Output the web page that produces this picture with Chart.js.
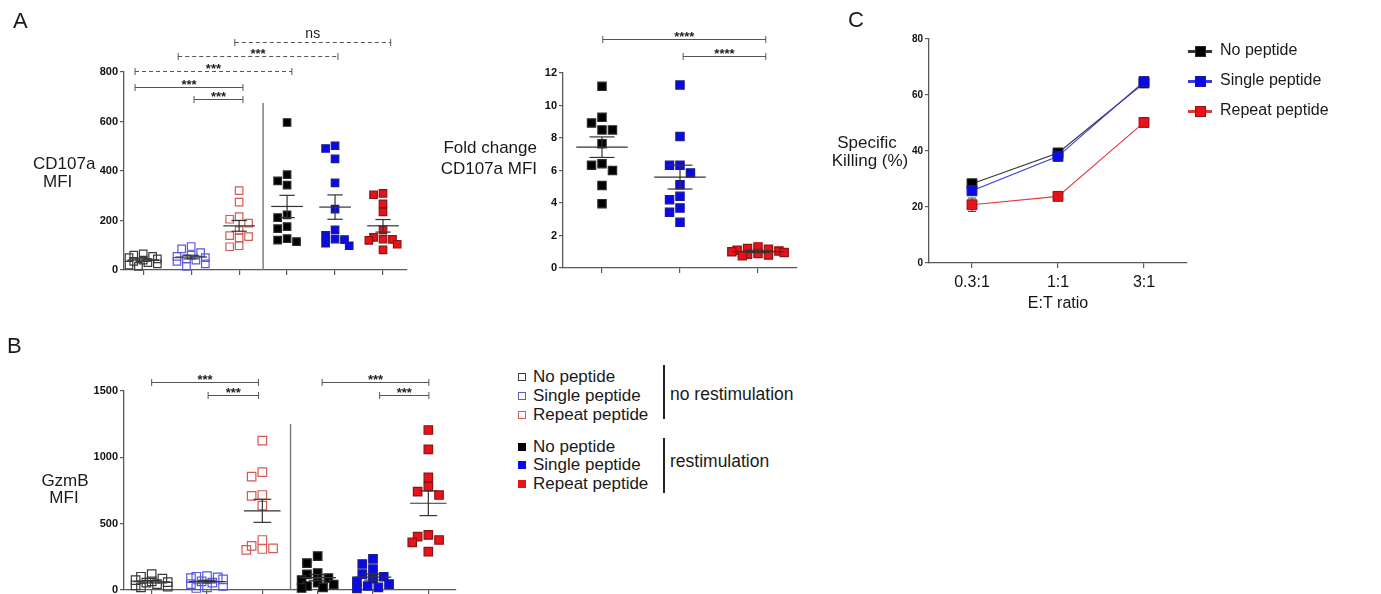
<!DOCTYPE html>
<html>
<head>
<meta charset="utf-8">
<script src="https://cdn.jsdelivr.net/npm/chart.js"></script>
<style>
  body { margin: 0; width: 1381px; height: 594px; overflow: hidden; background: #fff; position: relative;
         font-family: 'Liberation Sans', Arial, sans-serif; color: #1a1a1a; }
  canvas { position: absolute; }
  .t { position: absolute; white-space: nowrap; line-height: 1; }
  .sw { position: absolute; box-sizing: border-box; }
</style>
</head>
<body>
<script>
/********* DATA ************/
const groupNames = ["No peptide", "Single peptide", "Repeat peptide"];

// A - CD107a MFI
const cd107aTicks = [0, 200, 400, 600, 800];
const cd107aNoPep = [65, 60, 55, 50, 45, 40, 35, 30, 25, 20, 15];
const cd107aSingle = [95, 85, 70, 60, 55, 50, 45, 40, 35, 25, 15];
const cd107aRepeat = [321, 274, 216, 205, 189, 160, 139, 135, 130, 98, 94];
const cd107aNoPepRe = [596, 385, 360, 343, 223, 212, 175, 167, 127, 121, 115];
const cd107aSingleRe = [502, 491, 449, 352, 246, 162, 140, 125, 123, 108, 98];
const cd107aRepeatRe = [310, 304, 267, 235, 162, 132, 125, 124, 120, 104, 81];

// A - fold change CD107a MFI
const foldTicks = [0, 2, 4, 6, 8, 10, 12];
const foldNoPep = [11.18, 9.27, 8.92, 8.5, 8.5, 7.65, 6.42, 6.32, 6.0, 5.07, 3.96];
const foldSingle = [11.26, 8.1, 6.32, 6.32, 5.85, 5.13, 4.41, 4.2, 3.69, 3.43, 2.81];
const foldRepeat = [1.3, 1.2, 1.15, 1.1, 1.05, 1.0, 0.95, 0.9, 0.85, 0.8, 0.75];

// B - GzmB MFI
const gzmbTicks = [0, 500, 1000, 1500];
const gzmbNoPep = [120, 100, 85, 75, 65, 60, 55, 45, 35, 25, 20];
const gzmbSingle = [105, 100, 95, 90, 80, 65, 55, 45, 30, 20, 15];
const gzmbRepeat = [1126, 889, 854, 716, 709, 636, 377, 332, 314, 309, 302];
const gzmbNoPepRe = [256, 203, 128, 118, 90, 75, 55, 40, 30, 20, 15];
const gzmbSingleRe = [234, 196, 158, 120, 100, 85, 65, 45, 30, 20, 12];
const gzmbRepeatRe = [1206, 1060, 849, 779, 741, 716, 415, 402, 377, 359, 289];

// C - specific killing
const etRatios = ["0.3:1", "1:1", "3:1"];
const killTicks = [0, 20, 40, 60, 80];
const killNoPep = [28.3, 39.3, 64.3];
const killSingle = [25.8, 38.1, 64.8];
const killRepeat = [20.8, 23.8, 50.2];
const killNoPepSem = [1.0, 1.0, 1.5];
const killSingleSem = [1.0, 1.6, 1.5];
const killRepeatSem = [2.4, 0.8, 0.6];

/********* STYLE ************/
const FONT = "'Liberation Sans', Arial, sans-serif";
const AXIS = "#5a5a5a";
Chart.defaults.font.family = FONT;

const openBlack = { fill: "rgba(255,255,255,0)", line: "#3a3a3a" };
const openBlue = { fill: "rgba(255,255,255,0)", line: "#5a5ad8" };
const openRed = { fill: "rgba(255,255,255,0)", line: "#d45a55" };
const fillBlack = { fill: "#000000", line: "#2a2a2a" };
const fillBlue = { fill: "#0a0ae8", line: "#1c1c8a" };
const fillRed = { fill: "#e8121a", line: "#8a1515" };

/********* HELPERS ************/
const mean = (a) => a.reduce((s, v) => s + v, 0) / a.length;
const sem = (a) => {
  const m = mean(a);
  return Math.sqrt(a.reduce((s, v) => s + (v - m) * (v - m), 0) / (a.length - 1)) / Math.sqrt(a.length);
};

// simple beeswarm: spread overlapping points sideways (no randomness),
// limited to maxHalf px each side; when crowded, pick the least overlapping slot
function swarm(values, center, pxX, pxY, d, maxHalf) {
  const order = values.map((v, i) => i).sort((a, b) => values[b] - values[a]);
  const placed = [];
  const pts = [];
  const step = d * 0.6;
  for (const i of order) {
    const y = values[i] * pxY;
    let best = 0, bestCost = Infinity;
    for (let k = 0; ; k++) {
      const o = (k % 2 ? -1 : 1) * Math.ceil(k / 2) * step;
      if (Math.abs(o) > maxHalf) break;
      let cost = 0;
      placed.forEach((p) => {
        cost += Math.max(0, d - Math.abs(p.x - o)) * Math.max(0, d - Math.abs(p.y - y));
      });
      if (cost < bestCost - 1e-6) { bestCost = cost; best = o; }
      if (cost === 0) break;
    }
    placed.push({ x: best, y: y });
    pts.push({ x: center + best / pxX, y: values[i] });
  }
  return pts;
}

function seg(x1, y1, x2, y2, color, width) {
  return { data: [{ x: x1, y: y1 }, { x: x2, y: y2 }], showLine: true, borderColor: color,
           borderWidth: width || 1.2, pointRadius: 0, order: 1, clip: false };
}

function makeCanvas(c) {
  const cv = document.createElement("canvas");
  cv.width = c.w; cv.height = c.h;
  cv.style.left = c.l + "px"; cv.style.top = c.t + "px";
  document.body.appendChild(cv);
  return cv;
}

// significance brackets drawn above the groups
const bracketPlugin = (list) => ({
  id: "brackets",
  afterDatasetsDraw(chart) {
    const { ctx, scales: { x, y } } = chart;
    ctx.save();
    ctx.strokeStyle = "#555"; ctx.lineWidth = 1; ctx.fillStyle = "#222"; ctx.textAlign = "center";
    list.forEach((b) => {
      const x1 = x.getPixelForValue(b.from), x2 = x.getPixelForValue(b.to);
      const yy = Math.round(y.getPixelForValue(b.y)) + 0.5;
      ctx.setLineDash(b.dashed ? [4, 3] : []);
      ctx.beginPath(); ctx.moveTo(x1, yy); ctx.lineTo(x2, yy); ctx.stroke();
      ctx.setLineDash([]);
      ctx.beginPath();
      ctx.moveTo(x1, yy - 3.5); ctx.lineTo(x1, yy + 3.5);
      ctx.moveTo(x2, yy - 3.5); ctx.lineTo(x2, yy + 3.5);
      ctx.stroke();
      if (b.label === "ns") {
        ctx.font = "14px " + FONT;
        ctx.fillText(b.label, (x1 + x2) / 2, yy - 5);
      } else {
        ctx.font = "bold 13px " + FONT;
        ctx.fillText(b.label, (x1 + x2) / 2, yy + 1);
      }
    });
    ctx.restore();
  },
});

function dotPlot(p) {
  const cv = makeCanvas(p.canvas);
  const yMax = p.yTicks[p.yTicks.length - 1];
  const pxX = (p.plot.r - p.plot.l) / (p.xMax - p.xMin);
  const pxY = (p.plot.b - p.plot.t) / yMax;
  const datasets = [];
  p.groups.forEach((g, i) => {
    const c = i + 1;
    datasets.push({
      data: swarm(g.values, c, pxX, pxY, p.side * 1.05, pxX * 0.36),
      pointStyle: "rect", pointRadius: p.side / Math.SQRT2, pointHoverRadius: p.side / Math.SQRT2,
      backgroundColor: g.style.fill, borderColor: g.style.line, borderWidth: 1.2,
      order: 2, clip: false,
    });
    const m = mean(g.values), s = sem(g.values);
    datasets.push(seg(c - 0.33, m, c + 0.33, m, "#333"));
    datasets.push(seg(c, m - s, c, m + s, "#333"));
    datasets.push(seg(c - 0.16, m - s, c + 0.16, m - s, "#333"));
    datasets.push(seg(c - 0.16, m + s, c + 0.16, m + s, "#333"));
  });
  if (p.divider) datasets.push(seg(p.divider.x, 0, p.divider.x, p.divider.top, "#777", 1.4));

  return new Chart(cv, {
    type: "scatter",
    data: { datasets: datasets },
    options: {
      responsive: false, animation: false, events: [],
      layout: { padding: { left: 0, top: p.plot.t - p.canvas.t, right: p.canvas.l + p.canvas.w - p.plot.r, bottom: 0 } },
      plugins: { legend: { display: false }, tooltip: { enabled: false } },
      scales: {
        x: {
          type: "linear", min: p.xMin, max: p.xMax,
          afterBuildTicks: (s) => { s.ticks = p.groups.map((g, i) => ({ value: i + 1 })); },
          afterFit: (s) => { s.height = p.canvas.t + p.canvas.h - p.plot.b; },
          ticks: { callback: () => "" },
          grid: { drawOnChartArea: false, tickLength: 5, color: AXIS, lineWidth: 1.2 },
          border: { color: AXIS, width: 1.3 },
        },
        y: {
          min: 0, max: yMax,
          afterBuildTicks: (s) => { s.ticks = p.yTicks.map((v) => ({ value: v })); },
          afterFit: (s) => { s.width = p.plot.l - p.canvas.l; },
          ticks: { font: { size: 11, weight: "bold" }, color: "#111", padding: 2, callback: (v) => String(v) },
          grid: { drawOnChartArea: false, tickLength: 4, color: AXIS, lineWidth: 1.2 },
          border: { color: AXIS, width: 1.3 },
        },
      },
    },
    plugins: [bracketPlugin(p.brackets)],
  });
}

/********* A : CD107a MFI ************/
dotPlot({
  canvas: { l: 0, t: 0, w: 420, h: 292 },
  plot: { l: 124, t: 72, r: 407, b: 270 },
  xMin: 0.6, xMax: 6.5, yTicks: cd107aTicks, side: 7.5,
  divider: { x: 3.5, top: 675 },
  groups: [
    { values: cd107aNoPep, style: openBlack }, { values: cd107aSingle, style: openBlue },
    { values: cd107aRepeat, style: openRed }, { values: cd107aNoPepRe, style: fillBlack },
    { values: cd107aSingleRe, style: fillBlue }, { values: cd107aRepeatRe, style: fillRed },
  ],
  brackets: [
    { from: 0.83, to: 3.08, y: 738, label: "***" },
    { from: 2.06, to: 3.08, y: 690, label: "***" },
    { from: 0.83, to: 4.1, y: 805, label: "***", dashed: true },
    { from: 1.73, to: 5.06, y: 865, label: "***", dashed: true },
    { from: 2.91, to: 6.16, y: 922, label: "ns", dashed: true },
  ],
});

/********* A : fold change ************/
dotPlot({
  canvas: { l: 430, t: 0, w: 380, h: 292 },
  plot: { l: 563, t: 73, r: 797, b: 268 },
  xMin: 0.5, xMax: 3.5, yTicks: foldTicks, side: 8.3,
  groups: [
    { values: foldNoPep, style: fillBlack }, { values: foldSingle, style: fillBlue },
    { values: foldRepeat, style: fillRed },
  ],
  brackets: [
    { from: 1.01, to: 3.1, y: 14.07, label: "****" },
    { from: 2.04, to: 3.1, y: 13.05, label: "****" },
  ],
});

/********* B : GzmB MFI ************/
dotPlot({
  canvas: { l: 0, t: 330, w: 470, h: 290 },
  plot: { l: 124, t: 391, r: 456, b: 590 },
  xMin: 0.5, xMax: 6.5, yTicks: gzmbTicks, side: 8.5,
  divider: { x: 3.51, top: 1251 },
  groups: [
    { values: gzmbNoPep, style: openBlack }, { values: gzmbSingle, style: openBlue },
    { values: gzmbRepeat, style: openRed }, { values: gzmbNoPepRe, style: fillBlack },
    { values: gzmbSingleRe, style: fillBlue }, { values: gzmbRepeatRe, style: fillRed },
  ],
  brackets: [
    { from: 1.0, to: 2.93, y: 1568, label: "***" },
    { from: 2.02, to: 2.93, y: 1470, label: "***" },
    { from: 4.08, to: 6.01, y: 1568, label: "***" },
    { from: 5.12, to: 6.01, y: 1470, label: "***" },
  ],
});

/********* C : specific killing ************/
const killSeries = [
  { name: groupNames[0], values: killNoPep, err: killNoPepSem, line: "#333333", style: fillBlack, order: 2 },
  { name: groupNames[1], values: killSingle, err: killSingleSem, line: "#3a3ae0", style: fillBlue, order: 1 },
  { name: groupNames[2], values: killRepeat, err: killRepeatSem, line: "#e03a3a", style: fillRed, order: 0 },
];

const errorBarPlugin = {
  id: "errorBars",
  beforeDatasetsDraw(chart) {
    const { ctx, scales: { x, y } } = chart;
    ctx.save();
    ctx.strokeStyle = "#444"; ctx.lineWidth = 1;
    killSeries.forEach((s) => {
      s.values.forEach((v, i) => {
        const px = x.getPixelForValue(i), lo = y.getPixelForValue(v - s.err[i]), hi = y.getPixelForValue(v + s.err[i]);
        ctx.beginPath();
        ctx.moveTo(px, lo); ctx.lineTo(px, hi);
        ctx.moveTo(px - 4, lo); ctx.lineTo(px + 4, lo);
        ctx.moveTo(px - 4, hi); ctx.lineTo(px + 4, hi);
        ctx.stroke();
      });
    });
    ctx.restore();
  },
};

const cBox = { l: 840, t: 0, w: 360, h: 317 };
const cPlot = { l: 929, t: 39, r: 1187, b: 263 };
new Chart(makeCanvas(cBox), {
  type: "line",
  data: {
    labels: etRatios,
    datasets: killSeries.map((s) => ({
      label: s.name, data: s.values, borderColor: s.line, borderWidth: 1.1,
      pointStyle: "rect", pointRadius: 7, pointHoverRadius: 7,
      pointBackgroundColor: s.style.fill, pointBorderColor: s.style.line, pointBorderWidth: 1,
      order: s.order, clip: false,
    })),
  },
  options: {
    responsive: false, animation: false, events: [],
    layout: { padding: { left: 0, top: cPlot.t - cBox.t, right: cBox.l + cBox.w - cPlot.r, bottom: 0 } },
    plugins: { legend: { display: false }, tooltip: { enabled: false } },
    scales: {
      x: {
        offset: true,
        afterFit: (s) => { s.height = cBox.t + cBox.h - cPlot.b; },
        ticks: { font: { size: 16 }, color: "#111", padding: 5 },
        title: { display: true, text: "E:T ratio", font: { size: 16 }, color: "#111", padding: { top: 0, bottom: 4 } },
        grid: { drawOnChartArea: false, tickLength: 5, color: AXIS, lineWidth: 1.2 },
        border: { color: AXIS, width: 1.3 },
      },
      y: {
        min: 0, max: killTicks[killTicks.length - 1],
        afterBuildTicks: (s) => { s.ticks = killTicks.map((v) => ({ value: v })); },
        afterFit: (s) => { s.width = cPlot.l - cBox.l; },
        ticks: { font: { size: 10, weight: "bold" }, color: "#111", padding: 2 },
        grid: { drawOnChartArea: false, tickLength: 4, color: AXIS, lineWidth: 1.2 },
        border: { color: AXIS, width: 1.3 },
      },
    },
  },
  plugins: [errorBarPlugin],
});

/********* TEXT + LEGENDS ************/
function label(text, x, cy, size, align, weight) {
  const d = document.createElement("div");
  d.className = "t";
  d.textContent = text;
  d.style.fontSize = size + "px";
  d.style.top = (cy - size / 2) + "px";
  if (weight) d.style.fontWeight = weight;
  if (align === "center") { d.style.left = x + "px"; d.style.transform = "translateX(-50%)"; }
  else if (align === "right") { d.style.right = (1381 - x) + "px"; }
  else d.style.left = x + "px";
  document.body.appendChild(d);
}
function box(l, t, w, h, css) {
  const d = document.createElement("div");
  d.className = "sw";
  Object.assign(d.style, { left: l + "px", top: t + "px", width: w + "px", height: h + "px" }, css);
  document.body.appendChild(d);
}

label("A", 13, 21, 22);
label("B", 7, 346, 22);
label("C", 848, 20, 22);

label("CD107a", 33, 163, 17);
label("MFI", 43, 181, 17);
label("Fold change", 537, 147, 17, "right");
label("CD107a MFI", 537, 168, 17, "right");
label("Specific", 867, 142, 17, "center");
label("Killing (%)", 870, 160, 17, "center");
label("GzmB", 65, 480, 17, "center");
label("MFI", 64, 497, 17, "center");

// legend for C
killSeries.forEach((s, i) => {
  const cy = 51 + i * 30;
  box(1188, cy - 1.5, 24, 3, { background: s.line });
  box(1194.5, cy - 5.5, 11, 11, { background: s.style.fill, border: "1px solid " + s.style.line });
  label(s.name, 1220, cy - 1, 16);
});

// legend for A/B
const legendRows = [
  { style: openBlack, cy: 376 }, { style: openBlue, cy: 395 }, { style: openRed, cy: 414 },
  { style: fillBlack, cy: 446 }, { style: fillBlue, cy: 464 }, { style: fillRed, cy: 483 },
];
legendRows.forEach((r, i) => {
  box(518, r.cy - 3, 8, 8, { background: i < 3 ? "#fff" : r.style.fill,
                             border: "1px solid " + (i < 3 ? r.style.line : r.style.fill) });
  label(groupNames[i % 3], 533, r.cy, 17);
});
box(663, 365, 1.5, 54, { background: "#222" });
box(663, 438, 1.5, 55, { background: "#222" });
label("no restimulation", 670, 395, 17.5);
label("restimulation", 670, 462, 17.5);
</script>
</body>
</html>
